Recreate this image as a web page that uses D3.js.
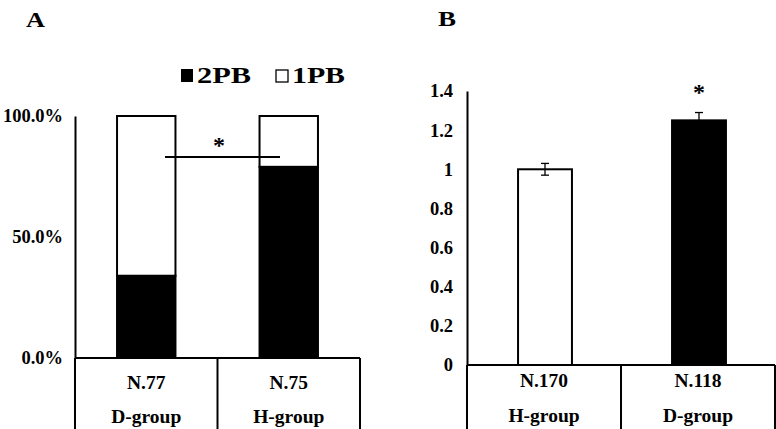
<!DOCTYPE html>
<html>
<head>
<meta charset="utf-8">
<script src="https://cdnjs.cloudflare.com/ajax/libs/d3/7.8.5/d3.min.js"></script>
<style>
  body { margin: 0; background: #fff; }
  text { font-family: "Liberation Serif", "Times New Roman", serif; font-weight: bold; fill: #000; }
</style>
</head>
<body>
<svg width="776" height="429"></svg>
<script>
// panel A: share of oocytes with 2PB / 1PB
const groupsA = ['D-group', 'H-group']
const countsA = ['N.77', 'N.75']
const twoPB = [0.34, 0.79]
const onePB = [0.66, 0.21]
const ticksA = [0, 0.5, 1]

// panel B: relative value with error
const groupsB = ['H-group', 'D-group']
const countsB = ['N.170', 'N.118']
const valuesB = [1.0, 1.25]
const errorsB = [0.03, 0.04]
const ticksB = [0, 0.2, 0.4, 0.6, 0.8, 1, 1.2, 1.4]

const svg = d3.select('svg')
const H = 429

// category table below the axis
function catBox(g, x, y0, groups, counts, dy1, dy2) {
  const [r0, r1] = x.range()
  g.append('line').attr('x1', r0).attr('x2', r1).attr('y1', y0).attr('y2', y0).attr('stroke', '#000').attr('stroke-width', 2)
  const edges = [r0, ...groups.slice(1).map(d => x(d)), r1]
  edges.forEach(e => g.append('line').attr('x1', e).attr('x2', e).attr('y1', y0).attr('y2', H).attr('stroke', '#000').attr('stroke-width', 2))
  groups.forEach((grp, i) => {
    const cx = x(grp) + x.bandwidth() / 2
    g.append('text').attr('x', cx).attr('y', y0 + dy1).attr('text-anchor', 'middle').style('font-size', '19.5px').text(counts[i])
    g.append('text').attr('x', cx).attr('y', y0 + dy2).attr('text-anchor', 'middle').style('font-size', '19.5px').text(grp)
  })
}

// ---------- A ----------
const yA = d3.scaleLinear().domain([0, 1]).range([358, 116])
const xA = d3.scaleBand().domain(groupsA).range([75, 360])
const barA = xA.bandwidth() * 0.41

const gA = svg.append('g')
gA.append('text').attr('x', 26).attr('y', 27).style('font-size', '22px').attr('textLength', 19).attr('lengthAdjust', 'spacingAndGlyphs').text('A')

const axA = d3.axisLeft(yA).tickValues(ticksA).tickFormat(d3.format('.1%')).tickSize(0).tickPadding(12)
gA.append('g').attr('transform', 'translate(75,0)').call(axA)
  .call(g => g.select('.domain').attr('stroke', '#000').attr('stroke-width', 2))
  .call(g => g.selectAll('text').style('font-size', '18.5px'))

groupsA.forEach((grp, i) => {
  const x = xA(grp) + (xA.bandwidth() - barA) / 2
  gA.append('rect').attr('x', x).attr('width', barA)
    .attr('y', yA(twoPB[i])).attr('height', yA(0) - yA(twoPB[i]))
    .attr('fill', '#000').attr('stroke', '#000').attr('stroke-width', 2)
  gA.append('rect').attr('x', x).attr('width', barA)
    .attr('y', yA(twoPB[i] + onePB[i])).attr('height', yA(twoPB[i]) - yA(twoPB[i] + onePB[i]))
    .attr('fill', '#fff').attr('stroke', '#000').attr('stroke-width', 2)
})

catBox(gA, xA, yA(0), groupsA, countsA, 31, 65)

// significance bar
gA.append('line').attr('x1', 165).attr('x2', 280).attr('y1', 157).attr('y2', 157).attr('stroke', '#000').attr('stroke-width', 2)
gA.append('text').attr('x', 219).attr('y', 153).attr('text-anchor', 'middle').style('font-size', '24px').text('*')

// legend
const legA = gA.append('g').attr('transform', 'translate(181,69)')
legA.append('rect').attr('x', 0).attr('y', 0).attr('width', 12).attr('height', 13).attr('fill', '#000')
legA.append('text').attr('x', 16).attr('y', 14).style('font-size', '24px').attr('textLength', 54).attr('lengthAdjust', 'spacingAndGlyphs').text('2PB')
legA.append('rect').attr('x', 95).attr('y', 1).attr('width', 12).attr('height', 12).attr('fill', '#fff').attr('stroke', '#000').attr('stroke-width', 1.3)
legA.append('text').attr('x', 111).attr('y', 14).style('font-size', '24px').attr('textLength', 53).attr('lengthAdjust', 'spacingAndGlyphs').text('1PB')

// ---------- B ----------
const yB = d3.scaleLinear().domain([0, 1.4]).range([365, 91])
const xB = d3.scaleBand().domain(groupsB).range([467, 775])
const barB = xB.bandwidth() * 0.35

const gB = svg.append('g')
gB.append('text').attr('x', 438).attr('y', 26).style('font-size', '22px').attr('textLength', 18).attr('lengthAdjust', 'spacingAndGlyphs').text('B')

const axB = d3.axisLeft(yB).tickValues(ticksB).tickFormat(d => String(+d.toFixed(1))).tickSize(0).tickPadding(14)
gB.append('g').attr('transform', 'translate(467,0)').call(axB)
  .call(g => g.select('.domain').attr('stroke', '#000').attr('stroke-width', 2))
  .call(g => g.selectAll('text').style('font-size', '18.5px'))

groupsB.forEach((grp, i) => {
  const cx = xB(grp) + xB.bandwidth() / 2 + 1
  gB.append('rect').attr('x', cx - barB / 2).attr('width', barB)
    .attr('y', yB(valuesB[i])).attr('height', yB(0) - yB(valuesB[i]))
    .attr('fill', i === 0 ? '#fff' : '#000').attr('stroke', '#000').attr('stroke-width', 2)
  const eTop = yB(valuesB[i] + errorsB[i]), eBot = yB(valuesB[i] - errorsB[i])
  gB.append('line').attr('x1', cx).attr('x2', cx).attr('y1', eTop).attr('y2', i === 0 ? eBot : yB(valuesB[i])).attr('stroke', '#000').attr('stroke-width', 1.3)
  gB.append('line').attr('x1', cx - 4).attr('x2', cx + 4).attr('y1', eTop).attr('y2', eTop).attr('stroke', '#000').attr('stroke-width', 1.3)
  if (i === 0) gB.append('line').attr('x1', cx - 4).attr('x2', cx + 4).attr('y1', eBot).attr('y2', eBot).attr('stroke', '#000').attr('stroke-width', 1.3)
})
gB.append('text').attr('x', 699).attr('y', 100).attr('text-anchor', 'middle').style('font-size', '24px').text('*')

catBox(gB, xB, yB(0), groupsB, countsB, 22, 57)
</script>
</body>
</html>
